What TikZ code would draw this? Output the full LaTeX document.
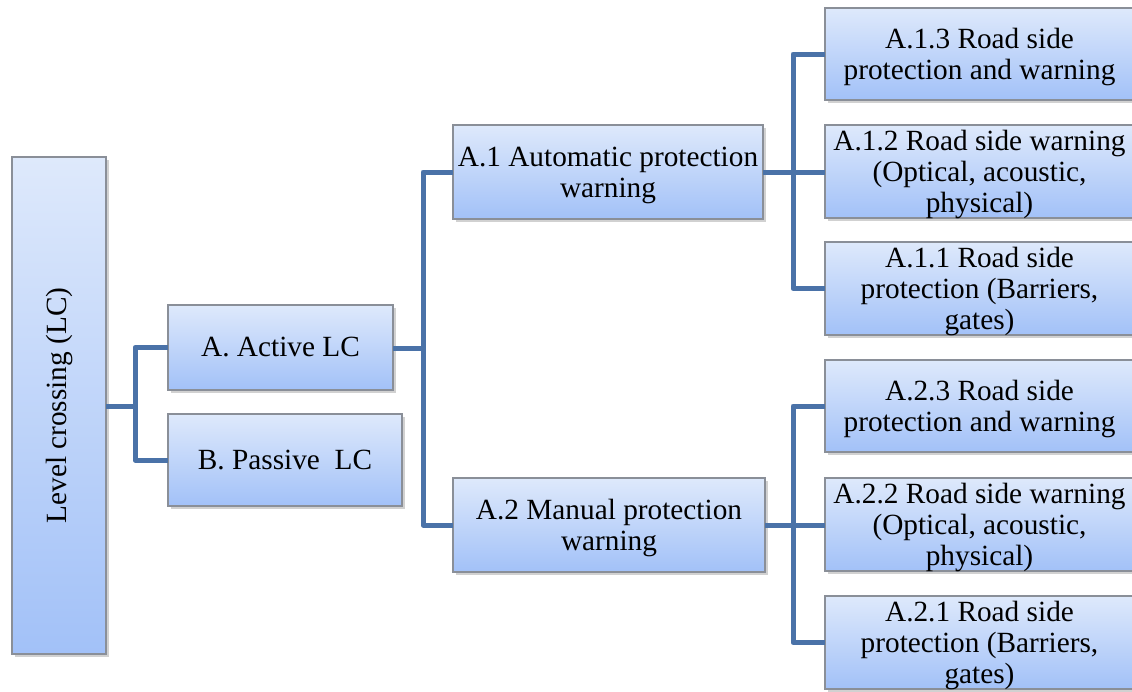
\documentclass[tikz,border=0pt]{standalone}
\usepackage{fontspec}
\setmainfont{Liberation Serif}
\usetikzlibrary{shadows}
\definecolor{boxtop}{HTML}{DEE9FB}
\definecolor{boxbot}{HTML}{A2C1F8}
\definecolor{boxline}{HTML}{8A8F98}
\definecolor{conncol}{HTML}{4A72A8}
\tikzset{
  item/.style={draw=boxline, line width=1.2pt, top color=boxtop, bottom color=boxbot,
    anchor=north west, inner sep=1pt, align=center, outer sep=0pt,
    font=\fontsize{29.3}{31}\selectfont,
    drop shadow={shadow xshift=2.5pt, shadow yshift=-3pt, opacity=0.3, fill=black!60}},
  % stacked text sits a little lower in its box
  lowered/.style={text depth=0pt},
  conn/.style={draw=conncol, line width=5pt, line join=round}
}
\begin{document}
\begin{tikzpicture}[x=1pt,y=-1pt]
  \useasboundingbox (0,0) rectangle (1132,691);
  % root and first level
  \node[item, minimum width=94pt, minimum height=497pt] (lc) at (12,157)
    {\rotatebox{90}{Level crossing (LC)}};
  \node[item, minimum width=225pt, minimum height=85pt] (act) at (168,305) {A. Active LC};
  \node[item, minimum width=234pt, minimum height=92pt] (pas) at (168,414) {B. Passive~ LC};
  % second level
  \node[item, lowered, minimum width=310pt, minimum height=94pt] (a1) at (453,125)
    {A.1 Automatic protection\\warning};
  \node[item, lowered, minimum width=312pt, minimum height=94pt] (a2) at (453,478)
    {A.2 Manual protection\\warning};
  % third level
  \node[item, lowered, minimum width=309pt, minimum height=92pt] (a13) at (825,8)
    {A.1.3 Road side\\protection and warning};
  \node[item, lowered, minimum width=309pt, minimum height=93pt] (a12) at (825,125)
    {A.1.2 Road side warning\\(Optical, acoustic,\\physical)};
  \node[item, lowered, minimum width=309pt, minimum height=93pt] (a11) at (825,242)
    {A.1.1 Road side\\protection (Barriers,\\gates)};
  \node[item, lowered, minimum width=309pt, minimum height=92pt] (a23) at (825,360)
    {A.2.3 Road side\\protection and warning};
  \node[item, lowered, minimum width=309pt, minimum height=93pt] (a22) at (825,478)
    {A.2.2 Road side warning\\(Optical, acoustic,\\physical)};
  \node[item, lowered, minimum width=309pt, minimum height=93pt] (a21) at (825,596)
    {A.2.1 Road side\\protection (Barriers,\\gates)};
  % junction points of the tree
  \coordinate (j1) at (135,406);
  \coordinate (j2) at (423,348);
  \coordinate (j3) at (793,172);
  \coordinate (j4) at (793,525);
  % connectors
  \draw[conn] (lc.east |- j1) -- (j1);
  \draw[conn] (act.west) -| (j1) |- (pas.west);
  \draw[conn] (act.east |- j2) -- (j2);
  \draw[conn] (a1.west) -| (j2) |- (a2.west);
  \draw[conn] (a1.east |- j3) -- (j3);
  \draw[conn] (a13.west) -| (j3) |- (a11.west);
  \draw[conn] (j3) -- (j3 -| a12.west);
  \draw[conn] (a2.east |- j4) -- (j4);
  \draw[conn] (a23.west) -| (j4) |- (a21.west);
  \draw[conn] (j4) -- (j4 -| a22.west);
\end{tikzpicture}
\end{document}
